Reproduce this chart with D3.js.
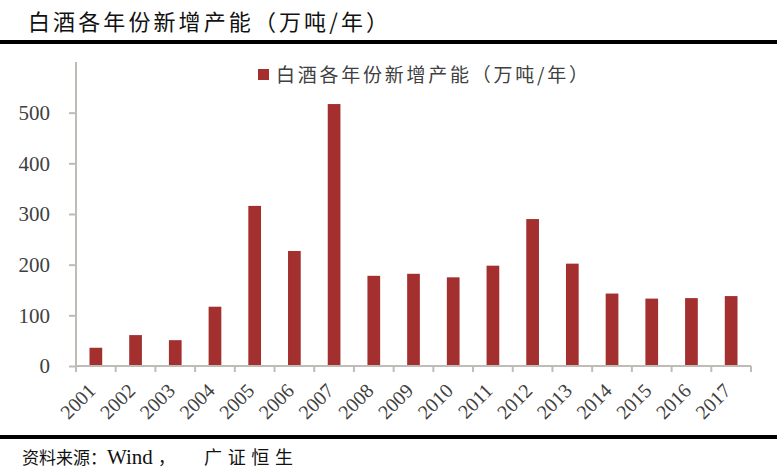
<!DOCTYPE html>
<html><head><meta charset="utf-8">
<script src="https://cdn.jsdelivr.net/npm/d3@7"></script>
<style>body{margin:0;background:#fff}svg{display:block}</style>
</head><body>
<script>
const years = ["2001","2002","2003","2004","2005","2006","2007","2008","2009","2010","2011","2012","2013","2014","2015","2016","2017"];
const capacity = [36,61,51,117,316,227,517,178,182,175,198,290,202,143,133,134,138];
const yTicks = [0,100,200,300,400,500];
const title = "白酒各年份新增产能（万吨/年）";
const legendLabel = "白酒各年份新增产能（万吨/年）";
const sourceParts = ["资料来源：", "Wind", "，", "广证恒生"];

const W = 784, H = 475;
const svg = d3.select("body").append("svg").attr("width", W).attr("height", H);
const cjk = "'Noto Sans CJK SC','Noto Sans CJK JP',sans-serif";
const serif = "'Liberation Serif','Times New Roman',serif";

svg.append("text").attr("x", 28).attr("y", 30).attr("font-family", cjk)
  .attr("font-size", 22).attr("fill", "#111").attr("textLength", 360)
  .attr("lengthAdjust", "spacing").text(title);
svg.append("rect").attr("x", 0).attr("y", 40).attr("width", 777).attr("height", 4).attr("fill", "#000");
svg.append("rect").attr("x", 0).attr("y", 435).attr("width", 777).attr("height", 4).attr("fill", "#000");

const src = svg.append("text").attr("y", 464).attr("fill", "#111");
const srcX = [22, 107, 158, 204];
const srcFont = [cjk, serif, cjk, cjk];
const srcSize = [17, 21, 17, 18];
sourceParts.forEach((p, i) => {
  const t = src.append("tspan").attr("x", srcX[i]).attr("font-family", srcFont[i])
    .attr("font-size", srcSize[i]).text(p);
  if (i === 3) t.attr("textLength", 89).attr("lengthAdjust", "spacing");
});

const x = d3.scaleBand().domain(years).range([76, 751]).paddingInner(0.68).paddingOuter(0.34);
const y = d3.scaleLinear().domain([0, 600]).range([366, 62]);

// legend
svg.append("rect").attr("x", 258).attr("y", 69).attr("width", 11).attr("height", 11).attr("fill", "#a32f2f");
svg.append("text").attr("x", 276).attr("y", 82).attr("font-family", cjk)
  .attr("font-size", 19).attr("fill", "#404040").attr("textLength", 312)
  .attr("lengthAdjust", "spacing").text(legendLabel);

// bars
svg.append("g").selectAll("rect").data(years).join("rect")
  .attr("x", d => x(d)).attr("width", x.bandwidth())
  .attr("y", (d, i) => y(capacity[i])).attr("height", (d, i) => y(0) - y(capacity[i]))
  .attr("fill", "#a32f2f");

const axisColor = "#bfbcb8";
// y axis
const yAxis = svg.append("g").attr("transform", "translate(76,0)")
  .call(d3.axisLeft(y).tickValues(yTicks).tickSize(7).tickPadding(19).tickFormat(d3.format("d")));
yAxis.select(".domain").attr("stroke", axisColor).attr("stroke-width", 2).attr("d", "M0,62V366");
yAxis.selectAll(".tick line").attr("stroke", axisColor).attr("stroke-width", 2);
yAxis.selectAll(".tick text").attr("font-family", serif).attr("font-size", 21).attr("fill", "#404040");

// x axis
const xa = svg.append("g").attr("transform", "translate(0,366)");
xa.append("line").attr("x1", 76).attr("x2", 751).attr("y1", 0).attr("y2", 0)
  .attr("stroke", axisColor).attr("stroke-width", 2);
const bounds = d3.range(years.length + 1).map(i => 76 + i * (675 / years.length));
xa.selectAll("line.t").data(bounds).join("line").attr("class", "t")
  .attr("x1", d => d).attr("x2", d => d).attr("y1", 0).attr("y2", 6)
  .attr("stroke", axisColor).attr("stroke-width", 2);
xa.selectAll("text").data(years).join("text")
  .attr("transform", d => `translate(${x(d) + x.bandwidth() / 2 + 1},${26}) rotate(-45)`)
  .attr("text-anchor", "end").attr("font-family", serif).attr("font-size", 20)
  .attr("fill", "#404040").text(d => d);
</script>
</body></html>
